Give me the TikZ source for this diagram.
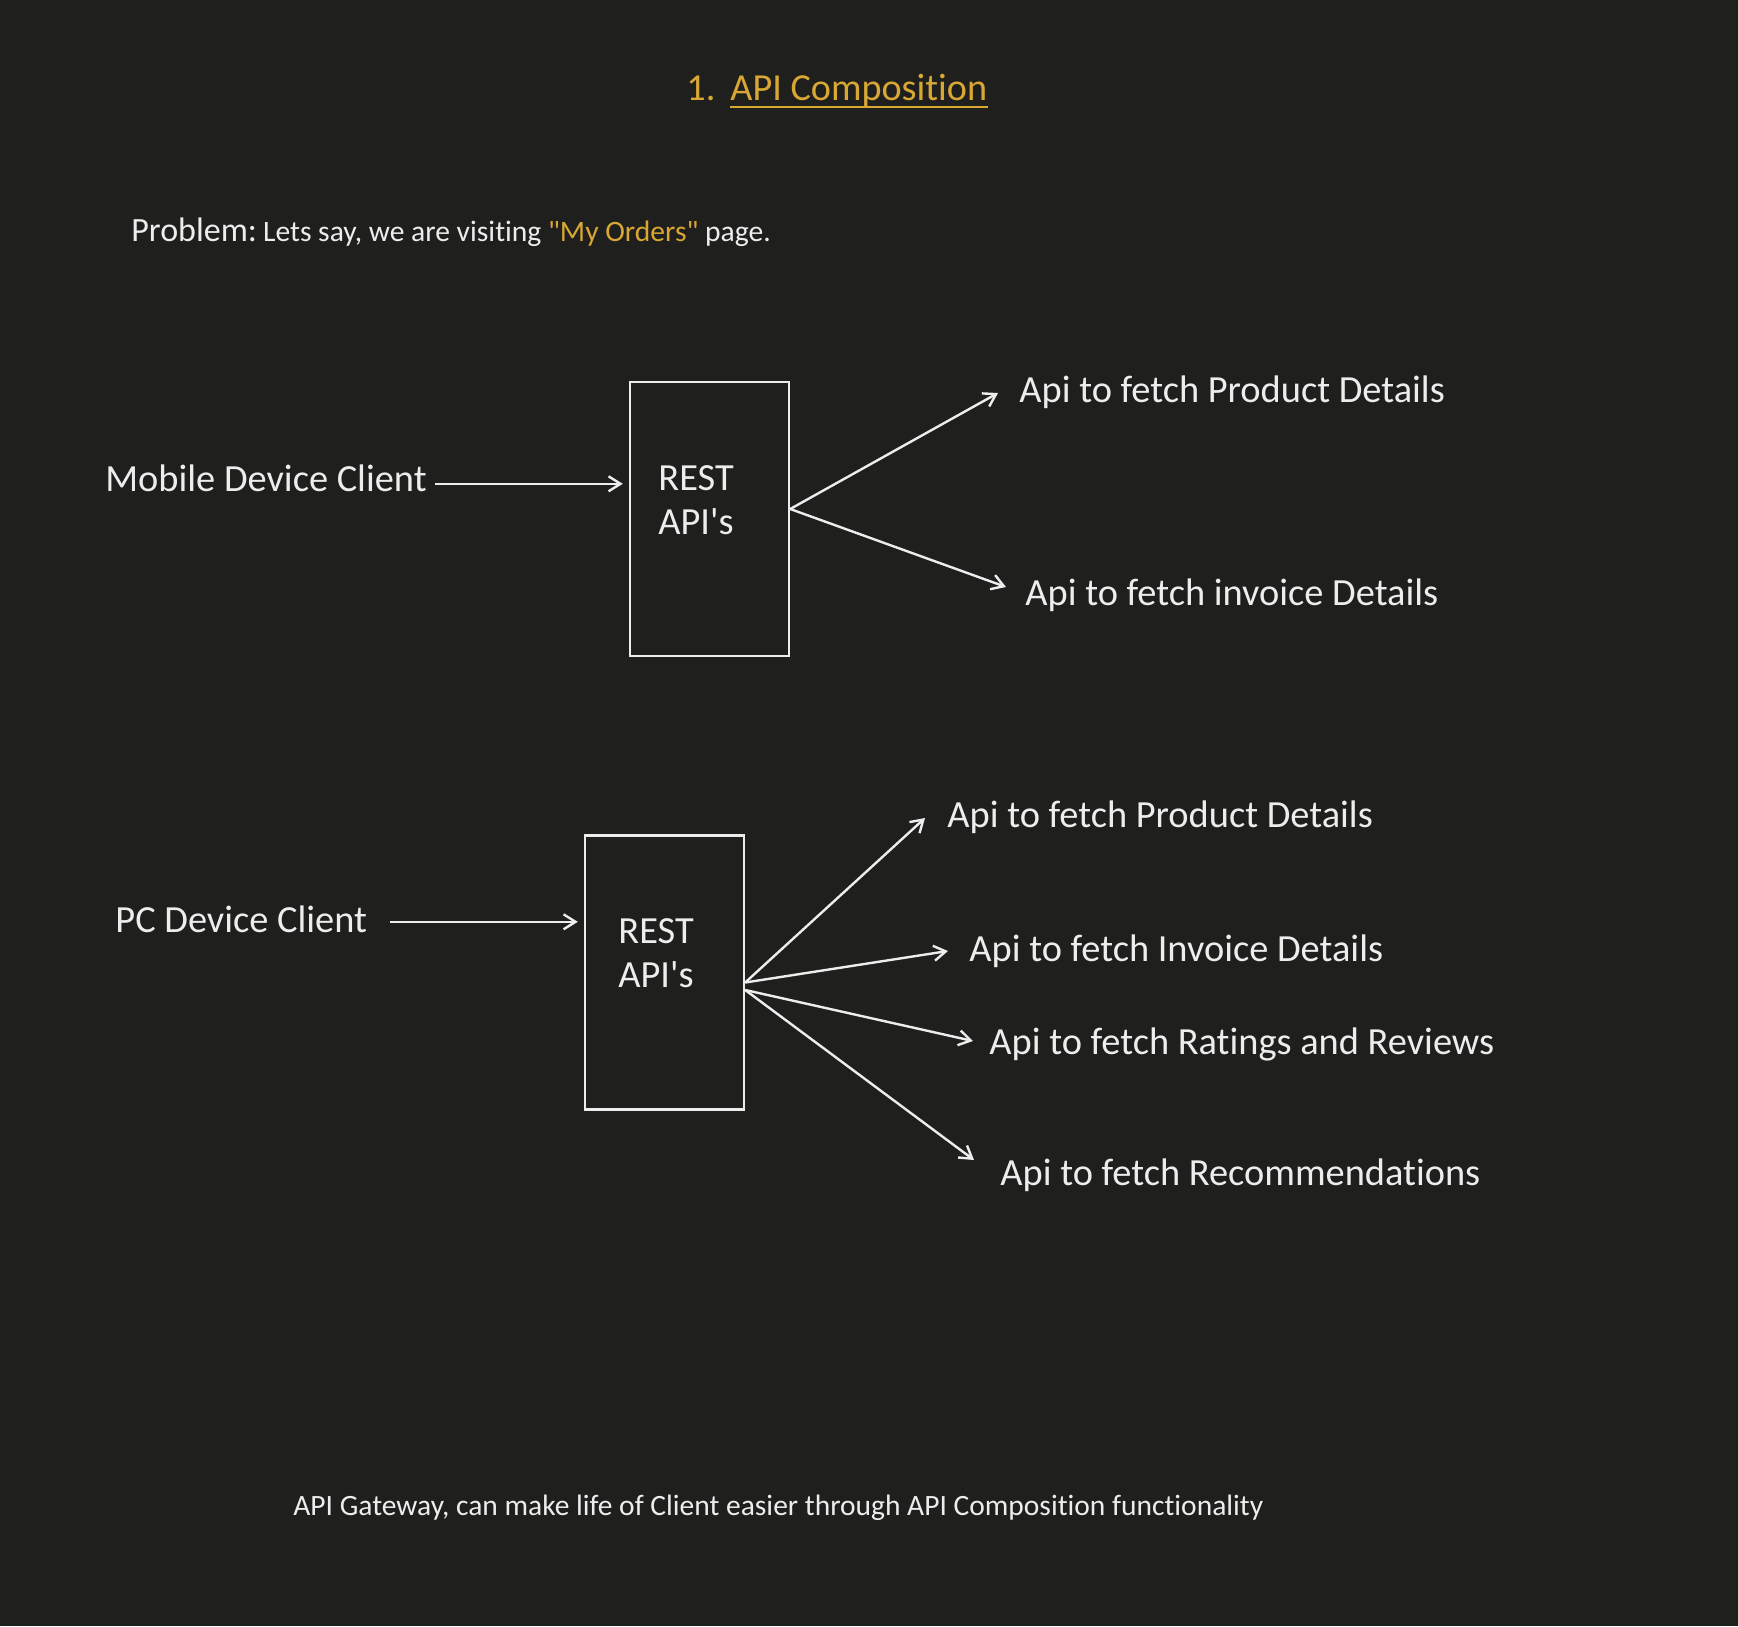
\documentclass[tikz,border=0pt]{standalone}
\usepackage{fontspec}
\setmainfont{Carlito}[Ligatures={NoCommon}]
\usetikzlibrary{positioning,arrows.meta}

\definecolor{PageBg}{HTML}{1F1F1E}
\definecolor{InkWhite}{HTML}{EDEDED}
\definecolor{InkGold}{HTML}{D8A734}

\tikzset{
  ApiBox/.style={draw=InkWhite, line width=1.2pt, minimum width=79.5pt, minimum height=137pt, inner sep=0pt},
  LabelText/.style={text=InkWhite, inner sep=0pt, anchor=base west, font=\fontsize{19.2}{23}\selectfont},
  BoxText/.style={text=InkWhite, inner sep=0pt, anchor=west, align=left, font=\fontsize{19.2}{22}\selectfont},
  TitleText/.style={text=InkGold, inner sep=0pt, anchor=base west, font=\fontsize{19.1}{23}\selectfont},
  EdgeStyle/.style={draw=InkWhite, line width=1.2pt, -{Straight Barb[length=6pt, width=7.5pt]}}
}

\begin{document}
\begin{tikzpicture}[x=0.5pt, y=-0.5pt]
      \fill[PageBg] (0,0) rectangle (1738,1626);

      % heading
      \node[TitleText] (TitleNum) at (686,101) {1.};
      \node[TitleText] (TitleName) at (730,101) {API Composition};
      \draw[InkGold, line width=1pt] ([yshift=-2.8pt]TitleName.base west) -- ([yshift=-2.8pt]TitleName.base east);

      \node[text=InkWhite, inner sep=0pt, anchor=base west] (Problem) at (131,242)
        {{\fontsize{17}{20}\selectfont Problem:} {\fontsize{14.8}{18}\selectfont Lets say, we are visiting \textcolor{InkGold}{\textquotedbl My Orders\textquotedbl} page.}};

      % mobile client
      \node[ApiBox] (RestA) at (709.5,519) {};
      \node[BoxText] (RestAText) at (658,500) {REST\\API\textquotesingle s};
      \node[LabelText] (Mobile) at (105,491) {Mobile Device Client};
      \node[LabelText] (ProductA) at (1019,402) {Api to fetch Product Details};
      \node[LabelText] (InvoiceA) at (1025,605) {Api to fetch invoice Details};

      \draw[EdgeStyle, shorten <=4pt, shorten >=3pt] ([yshift=-3pt]Mobile.east) -- ([yshift=-3pt]Mobile.east -| RestA.west);
      \draw[EdgeStyle] ([yshift=5pt]RestA.east) -- ([shift={(-10.5pt,4.5pt)}]ProductA.base west);
      \draw[EdgeStyle] ([yshift=5pt]RestA.east) -- ([shift={(-9.5pt,9pt)}]InvoiceA.base west);

      % pc client
      \node[ApiBox] (RestB) at (664.5,972.5) {};
      \node[BoxText] (RestBText) at (618,953) {REST\\API\textquotesingle s};
      \node[LabelText] (PC) at (115,932) {PC Device Client};
      \node[LabelText] (ProductB) at (947,827) {Api to fetch Product Details};
      \node[LabelText] (InvoiceB) at (969,961) {Api to fetch Invoice Details};
      \node[LabelText] (RatingsB) at (989,1054) {Api to fetch Ratings and Reviews};
      \node[LabelText] (RecommendB) at (1000,1185) {Api to fetch Recommendations};

      \draw[EdgeStyle, shorten <=11.5pt, shorten >=3pt] ([yshift=-1.5pt]PC.east) -- ([yshift=-1.5pt]PC.east -| RestB.west);
      \draw[EdgeStyle] ([yshift=-5pt]RestB.east) -- ([shift={(-11pt,4.5pt)}]ProductB.base west);
      \draw[EdgeStyle] ([yshift=-5pt]RestB.east) -- ([shift={(-10.5pt,5pt)}]InvoiceB.base west);
      \draw[EdgeStyle] ([yshift=-8.75pt]RestB.east) -- ([shift={(-8pt,6.5pt)}]RatingsB.base west);
      \draw[EdgeStyle] ([yshift=-8.75pt]RestB.east) -- ([shift={(-13pt,12.5pt)}]RecommendB.base west);

      \node[text=InkWhite, inner sep=0pt, anchor=base west, font=\fontsize{14.75}{18}\selectfont] (Gateway) at (293,1515)
        {API Gateway, can make life of Client easier through API Composition functionality};
    \end{tikzpicture}
\end{document}
